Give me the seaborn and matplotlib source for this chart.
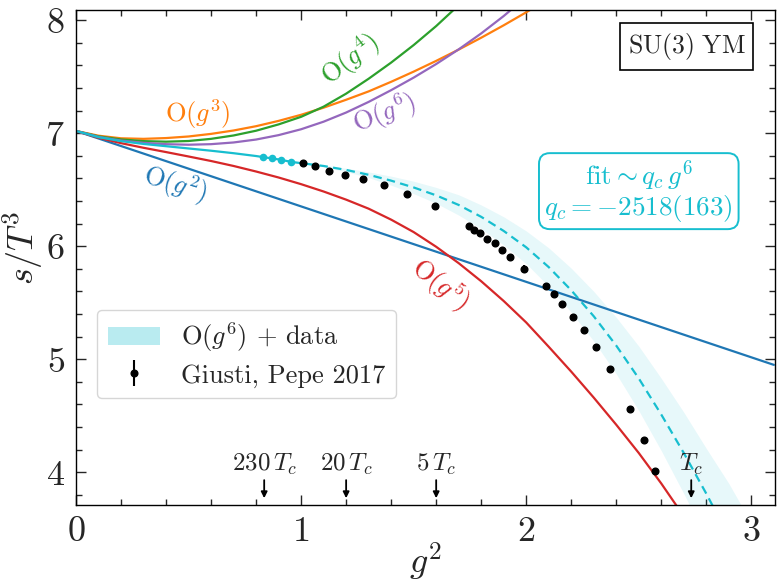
import matplotlib
matplotlib.use("Agg")
import matplotlib.pyplot as plt
from matplotlib.patches import Patch
from matplotlib.ticker import MultipleLocator
import seaborn as sns

# ---- perturbative curves (g^2, s/T^3) ----
o2_g2 = [0.0, 3.1]
o2_s = [7.02, 4.95]

o3_g2 = [0.0, 0.1, 0.2, 0.3, 0.4, 0.5, 0.6, 0.7, 0.8, 0.9, 1.0, 1.1, 1.2,
         1.3, 1.4, 1.5, 1.6, 1.7, 1.8, 1.9, 2.0, 2.1]
o3_s = [7.02, 6.978, 6.955, 6.950, 6.957, 6.971, 6.994, 7.024, 7.062, 7.109,
        7.163, 7.226, 7.296, 7.37, 7.455, 7.545, 7.64, 7.74, 7.845, 7.955,
        8.07, 8.19]

o4_g2 = [0.0, 0.1, 0.2, 0.3, 0.4, 0.5, 0.6, 0.7, 0.8, 0.9, 1.0, 1.1, 1.2,
         1.3, 1.4, 1.5, 1.6, 1.7, 1.8]
o4_s = [7.02, 6.972, 6.945, 6.930, 6.925, 6.931, 6.950, 6.980, 7.022, 7.078,
        7.145, 7.235, 7.35, 7.482, 7.625, 7.78, 7.948, 8.133, 8.333]

o5_g2 = [0.0, 0.1, 0.2, 0.3, 0.4, 0.5, 0.6, 0.7, 0.8, 0.9, 1.0, 1.1, 1.2,
         1.3, 1.4, 1.5, 1.6, 1.7, 1.8, 1.9, 2.0, 2.1, 2.2, 2.3, 2.4, 2.5,
         2.6, 2.7]
o5_s = [7.02, 6.960, 6.912, 6.871, 6.833, 6.794, 6.754, 6.710, 6.661, 6.608,
        6.549, 6.484, 6.412, 6.332, 6.235, 6.125, 5.995, 5.85, 5.69, 5.515,
        5.325, 5.11, 4.89, 4.66, 4.42, 4.17, 3.90, 3.61]

o6_g2 = [0.0, 0.1, 0.2, 0.3, 0.4, 0.5, 0.6, 0.7, 0.8, 0.9, 1.0, 1.1, 1.2,
         1.3, 1.4, 1.5, 1.6, 1.7, 1.8, 1.9, 2.0]
o6_s = [7.02, 6.968, 6.935, 6.915, 6.903, 6.898, 6.903, 6.918, 6.944, 6.983,
        7.035, 7.102, 7.183, 7.277, 7.381, 7.492, 7.612, 7.742, 7.883, 8.037,
        8.205]

# ---- O(g^6) + fitted q_c g^6 term ----
pt_g2 = [0.0, 0.1, 0.2, 0.3, 0.4, 0.5, 0.6, 0.7, 0.8, 0.9, 0.96]
pt_s = [7.02, 6.965, 6.93, 6.905, 6.885, 6.865, 6.845, 6.823, 6.798, 6.768, 6.745]

fit_g2 = [0.96, 1.0, 1.1, 1.2, 1.3, 1.4, 1.5, 1.6, 1.7, 1.8, 1.9, 2.0, 2.1,
          2.2, 2.3, 2.4, 2.5, 2.6, 2.7, 2.8, 2.9, 3.0]
fit_s = [6.745, 6.735, 6.71, 6.675, 6.632, 6.58, 6.52, 6.45, 6.365, 6.26,
         6.135, 5.99, 5.815, 5.61, 5.38, 5.12, 4.83, 4.51, 4.17, 3.81, 3.43, 3.03]
fit_lo = [6.745, 6.732, 6.702, 6.66, 6.607, 6.54, 6.465, 6.38, 6.275, 6.155,
          6.01, 5.845, 5.645, 5.415, 5.16, 4.87, 4.545, 4.19, 3.81, 3.41, 2.96, 2.51]
fit_hi = [6.745, 6.738, 6.718, 6.69, 6.657, 6.62, 6.575, 6.52, 6.455, 6.365,
          6.26, 6.135, 5.985, 5.805, 5.60, 5.37, 5.115, 4.83, 4.53, 4.21, 3.90, 3.55]

# ---- lattice data, Giusti & Pepe 2017 ----
hi_g2 = [0.832, 0.871, 0.912, 0.956]
hi_s = [6.789, 6.777, 6.763, 6.745]

lat_g2 = [1.008, 1.062, 1.126, 1.196, 1.273, 1.366, 1.470, 1.594, 1.744, 1.769,
          1.796, 1.827, 1.860, 1.894, 1.928, 1.992, 2.086, 2.123, 2.160, 2.207,
          2.255, 2.310, 2.371, 2.459, 2.524, 2.570]
lat_s = [6.736, 6.712, 6.668, 6.630, 6.593, 6.542, 6.462, 6.352, 6.181, 6.142,
         6.113, 6.068, 6.024, 5.969, 5.907, 5.801, 5.650, 5.573, 5.485, 5.370,
         5.255, 5.104, 4.913, 4.559, 4.288, 4.007]
lat_err = [0.010, 0.010, 0.010, 0.010, 0.012, 0.015, 0.012, 0.012, 0.012, 0.012,
           0.012, 0.012, 0.012, 0.015, 0.015, 0.035, 0.015, 0.015, 0.015, 0.015,
           0.015, 0.015, 0.015, 0.015, 0.015, 0.015]

# ---- temperature markers ----
temp_g2 = [0.836, 1.2, 1.6, 2.733]
temp_labels = [r"$230\,T_c$", r"$20\,T_c$", r"$5\,T_c$", r"$T_c$"]

sns.set_style("ticks")
plt.rcParams.update({
    "font.family": "serif",
    "font.serif": ["cmr10"],
    "mathtext.fontset": "cm",
    "axes.formatter.use_mathtext": True,
    "axes.unicode_minus": False,
    "axes.linewidth": 1.0,
    "axes.edgecolor": "black",
})

C_BLUE, C_ORANGE, C_GREEN = "#1f77b4", "#ff7f0e", "#2ca02c"
C_RED, C_PURPLE, C_CYAN = "#d62728", "#9467bd", "#17becf"

fig, ax = plt.subplots(figsize=(7.77, 5.83), dpi=100)
fig.subplots_adjust(left=0.0978, right=0.9974, bottom=0.1338, top=0.9828)

ax.fill_between(fit_g2, fit_lo, fit_hi, color=C_CYAN, alpha=0.1, lw=0, zorder=1)

lw = 1.6
for xs, ys, col in [(o2_g2, o2_s, C_BLUE), (o3_g2, o3_s, C_ORANGE),
                    (o4_g2, o4_s, C_GREEN), (o5_g2, o5_s, C_RED),
                    (o6_g2, o6_s, C_PURPLE), (pt_g2, pt_s, C_CYAN)]:
    sns.lineplot(x=xs, y=ys, ax=ax, color=col, lw=lw, sort=False,
                 estimator=None, zorder=2)
sns.lineplot(x=fit_g2, y=fit_s, ax=ax, color=C_CYAN, lw=lw, sort=False,
             estimator=None, linestyle=(0, (3.8, 2.4)), zorder=2)

eb = ax.errorbar(lat_g2, lat_s, yerr=lat_err, fmt="o", color="black", ms=4.8,
                 elinewidth=1.5, capsize=0, zorder=4)
sns.scatterplot(x=hi_g2, y=hi_s, ax=ax, color=C_CYAN, s=30, edgecolor=C_CYAN,
                linewidth=0, zorder=5)

# curve labels
ax.text(0.44, 6.55, r"$\mathrm{O}(g^2)$", color=C_BLUE, fontsize=19,
        rotation=-17, ha="center", va="center")
ax.text(0.54, 7.17, r"$\mathrm{O}(g^3)$", color=C_ORANGE, fontsize=19,
        ha="center", va="center")
ax.text(1.22, 7.65, r"$\mathrm{O}(g^4)$", color=C_GREEN, fontsize=19,
        rotation=38, ha="center", va="center")
ax.text(1.37, 7.17, r"$\mathrm{O}(g^6)$", color=C_PURPLE, fontsize=19,
        rotation=21, ha="center", va="center")
ax.text(1.62, 5.66, r"$\mathrm{O}(g^5)$", color=C_RED, fontsize=19,
        rotation=-38, ha="center", va="center")

ax.text(0.958, 0.926, r"$\mathrm{SU(3)\ YM}$", transform=ax.transAxes,
        fontsize=18.5, ha="right", va="center",
        bbox=dict(boxstyle="square,pad=0.3", fc="white", ec="black", lw=1.2))
ax.text(2.50, 6.49, "$\\mathrm{fit} \\sim q_c\\,g^6$\n$q_c = -2518(163)$",
        color=C_CYAN, fontsize=19.5, ha="center", va="center", linespacing=1.0,
        bbox=dict(boxstyle="round,pad=0.2,rounding_size=0.4", fc="white",
                  ec=C_CYAN, lw=1.4), zorder=6)

for xg, lab in zip(temp_g2, temp_labels):
    ax.annotate("", xy=(xg, 3.77), xytext=(xg, 3.93),
                arrowprops=dict(arrowstyle="-|>", color="black", lw=1.3,
                                mutation_scale=9, shrinkA=0, shrinkB=0))
    ax.text(xg, 4.07, lab, fontsize=18, ha="center", va="center")

handles = [Patch(facecolor=C_CYAN, alpha=0.3, edgecolor="none"), eb]
labels = [r"$\mathrm{O}(g^6)$ + data", "Giusti, Pepe 2017"]
leg = ax.legend(handles, labels, loc="lower left", bbox_to_anchor=(0.03, 0.216),
                borderaxespad=0, fontsize=19, frameon=True, fancybox=True,
                handlelength=2.0, handletextpad=0.8, labelspacing=0.35,
                borderpad=0.4)
leg.get_frame().set_edgecolor("#cccccc")
leg.get_frame().set_linewidth(1.0)

ax.set_xlim(0, 3.105)
ax.set_ylim(3.71, 8.09)
ax.xaxis.set_major_locator(MultipleLocator(1))
ax.xaxis.set_minor_locator(MultipleLocator(0.2))
ax.yaxis.set_major_locator(MultipleLocator(1))
ax.yaxis.set_minor_locator(MultipleLocator(0.2))
ax.tick_params(which="both", direction="in", top=True, right=True,
               labelsize=26, width=1.0)
ax.tick_params(which="major", length=7, pad=8)
ax.tick_params(which="minor", length=4)
ax.set_xlabel(r"$g^2$", fontsize=26)
ax.set_ylabel(r"$s/T^3$", fontsize=26)
ax.xaxis.set_label_coords(0.5, -0.072)
ax.yaxis.set_label_coords(-0.044, 0.519)

fig.savefig("out.png", dpi=100)
